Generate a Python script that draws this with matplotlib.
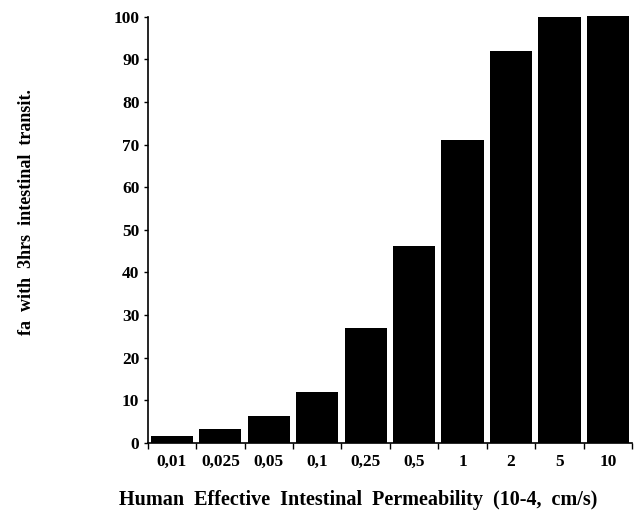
import numpy as np
import matplotlib.pyplot as plt

plt.rcParams['font.family'] = ['Liberation Serif', 'DejaVu Serif']
plt.rcParams['font.weight'] = 'bold'

categories = ['0,01', '0,025', '0,05', '0,1', '0,25', '0,5', '1', '2', '5', '10']
fa_values = [1.6, 3.2, 6.2, 12, 27, 46.3, 71, 92, 100, 100.3]

fig = plt.figure(figsize=(6.34, 5.12), dpi=100)
ax = fig.add_axes([0.233, 0.135, 0.764, 0.832])

x = np.arange(len(categories))
bars = ax.bar(x, fa_values, width=0.87, color='black')
for b in bars:
    b.set_clip_on(False)

ax.set_xlim(-0.5, len(categories) - 0.5)
ax.set_ylim(0, 100)
ax.set_yticks(np.arange(0, 101, 10))
ax.set_xticks(x)
ax.set_xticklabels(categories)
ax.set_xticks(np.arange(-0.5, len(categories), 1), minor=True)
ax.tick_params(axis='x', which='major', length=0, labelsize=12.5, pad=8)
ax.tick_params(axis='x', which='minor', length=4, width=1, direction='out')
ax.tick_params(axis='y', length=3, width=1, direction='out', labelsize=12.5, pad=3)

for side in ['top', 'right']:
    ax.spines[side].set_visible(False)
ax.spines['left'].set_linewidth(1.2)
ax.spines['bottom'].set_linewidth(1.2)

fig.text(0.042, 0.585, 'fa  with  3hrs  intestinal  transit.', rotation=90,
         ha='center', va='center', fontsize=13, fontweight='bold')
fig.text(0.565, 0.023, 'Human  Effective  Intestinal  Permeability  (10-4,  cm/s)',
         ha='center', va='center', fontsize=14.5, fontweight='bold')

fig.savefig('out.png', dpi=100)
